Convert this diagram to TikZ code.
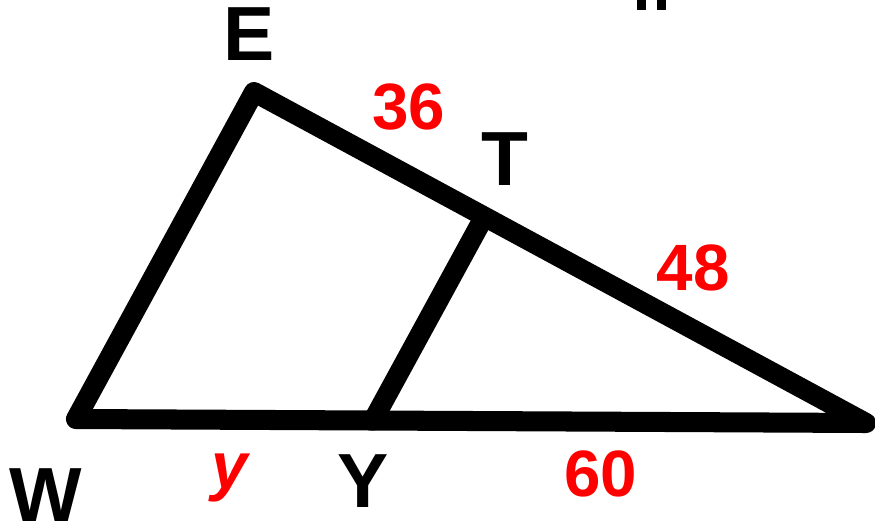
\documentclass[tikz,border=0pt]{standalone}
\usepackage{fontspec}
\setmainfont{Liberation Sans}
\definecolor{ink}{HTML}{000000}
\definecolor{mark}{HTML}{FF0000}

\begin{document}
\begin{tikzpicture}[x=0.02cm,y=-0.02cm,
  side/.style={line width=11.4pt,line join=round,line cap=round,draw=ink},
  vertex/.style={font=\fontsize{43.7}{44}\selectfont\bfseries,text=ink,inner sep=0pt},
  length/.style={font=\fontsize{37.3}{38}\selectfont\bfseries,text=mark,inner sep=0pt}]
  \useasboundingbox (0,0) rectangle (875,527);

  \coordinate (e) at (254,92);
  \coordinate (w) at (76,419);
  \coordinate (r) at (866,423);
  \coordinate (t) at (484,217);
  \coordinate (y) at (373,420.5);

  \draw[side] (e) -- (r) -- (w) -- cycle;
  \draw[side] (t) -- (y);

  \node[vertex] (labE) at (249,34) {E};
  \node[vertex] (labT) at (505,159) {T};
  \node[vertex] (labW) at (46,495) {W};
  \node[vertex] (labY) at (363,481) {Y};

  \node[length] (lenET) at (409,107) {36};
  \node[length] (lenTR) at (693,268) {48};
  \node[length] (lenYR) at (601,474) {60};
  \node[length,font=\fontsize{37.3}{38}\selectfont\bfseries\itshape] (lenWY) at (230,478) {y};

  \fill[ink] (637,0) rectangle (646,10);
  \fill[ink] (657,0) rectangle (666,10);
\end{tikzpicture}
\end{document}
